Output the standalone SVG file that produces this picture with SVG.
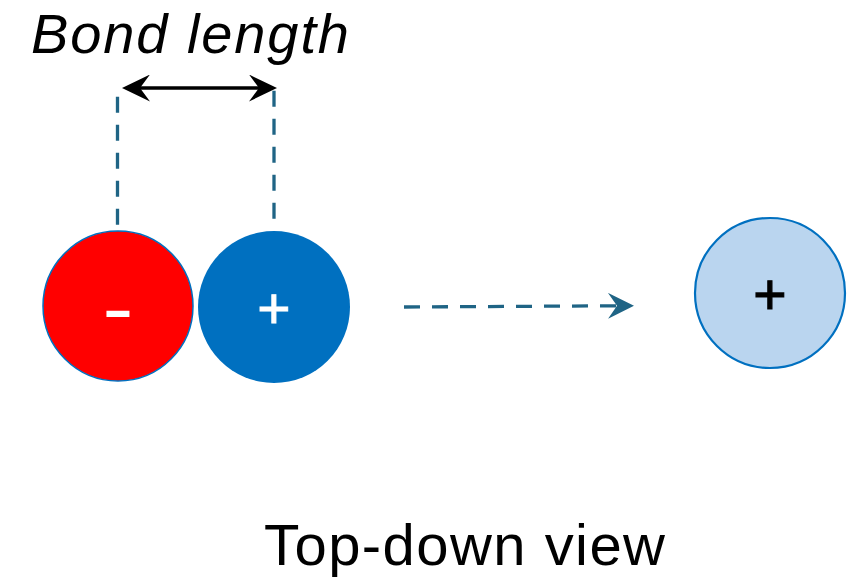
<svg xmlns="http://www.w3.org/2000/svg" width="858" height="582" viewBox="0 0 858 582">
  <style>
    .label { font-family: "Liberation Sans", Arial, sans-serif; fill: #000; }
    .sign { font-family: "Liberation Sans", Arial, sans-serif; text-anchor: middle; }
    .guide { fill: none; stroke: #1F6485; stroke-width: 3.3; stroke-dasharray: 16 12; }
    .dim { fill: none; stroke: #000; stroke-width: 3.3; }
  </style>
  <defs>
    <marker id="headBlack" markerUnits="userSpaceOnUse" viewBox="0 0 28 27" markerWidth="28" markerHeight="27" refX="11" refY="13.5" orient="auto-start-reverse">
      <path d="M0,0 L28,13.5 L0,27 L10,13.5 Z" fill="#000"/>
    </marker>
    <marker id="headTeal" markerUnits="userSpaceOnUse" viewBox="0 0 26 26" markerWidth="26" markerHeight="26" refX="10" refY="13" orient="auto">
      <path d="M0,0 L26,13 L0,26 L9,13 Z" fill="#1F6485"/>
    </marker>
  </defs>

  <rect width="858" height="582" fill="#fff"/>

  <!-- title above the dimension arrow -->
  <text class="label" x="31" y="53" font-size="56" font-style="italic" textLength="318" lengthAdjust="spacing">Bond length</text>

  <g id="connectors">
    <!-- projection guides from the ion centres -->
    <line class="guide" x1="117.5" y1="96.7" x2="117.5" y2="225"/>
    <line class="guide" x1="274" y1="90.7" x2="274" y2="219"/>
    <!-- bond length dimension -->
    <line class="dim" x1="139" y1="88" x2="260" y2="88" marker-start="url(#headBlack)" marker-end="url(#headBlack)"/>
    <!-- direction of travel -->
    <line class="guide" x1="404" y1="307" x2="618" y2="305.8" marker-end="url(#headTeal)"/>
  </g>

  <g id="anion">
    <circle cx="118" cy="306" r="75" fill="#FF0000" stroke="#0070C0" stroke-width="1.5"/>
    <text class="sign" x="118" y="326.5" font-size="52" font-weight="bold" fill="#fff" textLength="30" lengthAdjust="spacingAndGlyphs">-</text>
  </g>

  <g id="cation">
    <circle cx="274" cy="307" r="76" fill="#0070C0"/>
    <text class="sign" x="274" y="327.5" font-size="57" fill="#fff" stroke="#fff" stroke-width="0.9">+</text>
  </g>

  <g id="cation-faded">
    <circle cx="770" cy="293" r="75" fill="#BAD5EF" stroke="#0070C0" stroke-width="2.2"/>
    <text class="sign" x="770" y="313.5" font-size="57" fill="#000" stroke="#000" stroke-width="1.2">+</text>
  </g>

  <text class="label" x="264" y="565" font-size="58" textLength="401" lengthAdjust="spacing">Top-down view</text>
</svg>
